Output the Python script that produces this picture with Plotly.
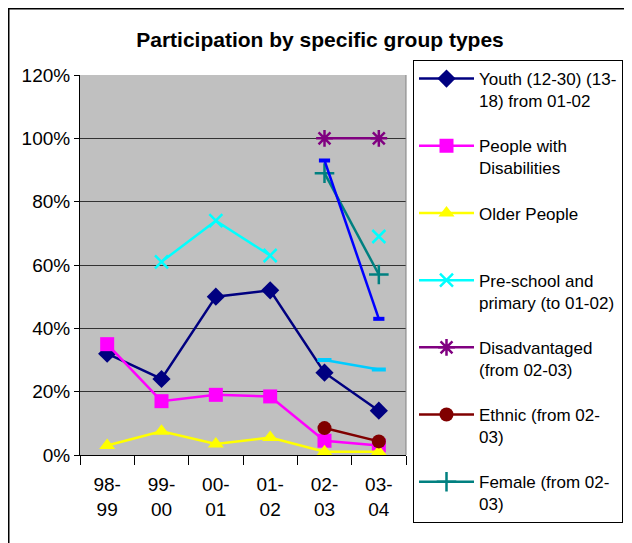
import plotly.graph_objects as go

categories = ["98-<br>99", "99-<br>00", "00-<br>01", "01-<br>02", "02-<br>03", "03-<br>04"]

youth = [32, 24, 50, 52, 26, 14]
disabilities = [35, 17, 19, 18.5, 4.5, 3]
older = [3, 7.5, 3.5, 5.5, 1, 1]
preschool = [None, 61, 74, 63, None, 69]
disadvantaged = [None, None, None, None, 100, 100]
ethnic = [None, None, None, None, 8.5, 4.3]
female = [None, None, None, None, 89, 57]
youth_13_18 = [None, None, None, None, 93, 43]
primary_extra = [None, None, None, None, 30, 27]

FONT = "Liberation Sans, Arial, sans-serif"

# page body has an 8px margin, so figure coords = screen coords - 8
W, H = 624, 535
L, R, T, B = 72, 398, 67, 447  # plot area in figure px
PW, PH = R - L, B - T

fig = go.Figure()

def add(name, y, color, symbol, size, legend=True, mline=None):
    fig.add_trace(go.Scatter(
        x=categories, y=y, name=name, mode="lines+markers",
        line=dict(color=color, width=2.5),
        marker=dict(symbol=symbol, size=size, color=color,
                    line=dict(color=color, width=mline if mline else 0)),
        connectgaps=False, showlegend=legend,
        legendgroup=name,
    ))

add("Youth (12-30) (13-<br>18) from 01-02", youth, "#000080", "diamond", 14)
add("People with<br>Disabilities", disabilities, "#FF00FF", "square", 14)
add("Older People<br> ", older, "#FFFF00", "triangle-up", 14)
add("Pre-school and<br>primary (to 01-02)", preschool, "#00FFFF", "x-thin", 13, mline=2.5)
add("Disadvantaged<br>(from 02-03)", disadvantaged, "#800080", "asterisk", 14, mline=2.5)
add("Ethnic (from 02-<br>03)", ethnic, "#800000", "circle", 14)
add("Female (from 02-<br>03)", female, "#008080", "cross-thin", 14, mline=2.5)
add("Youth (13-18)", youth_13_18, "#0000FF", "line-ew", 8, legend=False, mline=4)
add("Primary", primary_extra, "#00CCFF", "line-ew", 10, legend=False, mline=4)

fig.update_layout(
    width=W, height=H,
    margin=dict(l=L, r=W - R, t=T, b=H - B, autoexpand=False),
    paper_bgcolor="white",
    plot_bgcolor="#C0C0C0",
    font=dict(family=FONT, size=18, color="black"),
    title=dict(text="<b>Participation by specific group types</b>",
               x=312 / W, xanchor="center", y=1 - 32 / H, yanchor="middle",
               font=dict(size=21, family=FONT, color="black")),
    showlegend=True,
    legend=dict(
        x=(405 - L) / PW, xanchor="left", y=(B - 52) / PH, yanchor="top",
        bgcolor="white", bordercolor="black", borderwidth=1,
        font=dict(size=17, family=FONT, color="black"),
        traceorder="grouped", tracegroupgap=20, valign="top",
        itemwidth=55, maxheight=480,
    ),
    xaxis=dict(
        type="category", range=[-0.5, 5.5],
        showline=True, linecolor="black", linewidth=1,
        ticks="outside", tickson="boundaries", ticklen=9, tickcolor="black",
        ticklabelstandoff=12,
        showgrid=False, tickfont=dict(size=19, family=FONT),
    ),
    yaxis=dict(
        range=[0, 120], dtick=20, ticksuffix="%",
        showline=True, linecolor="black", linewidth=1,
        ticks="outside", ticklen=5, tickcolor="black",
        showgrid=True, gridcolor="#333333", gridwidth=1,
        zeroline=False, tickfont=dict(size=19, family=FONT),
    ),
    shapes=[
        dict(type="rect", xref="paper", yref="paper",
             x0=(0.75 - L) / PW, x1=(W + 20 - L) / PW,
             y0=(B - H - 20) / PH, y1=(B - 0.75) / PH,
             line=dict(color="black", width=1.5), layer="below"),
        dict(type="line", xref="paper", yref="paper",
             x0=1, x1=1, y0=0, y1=1, line=dict(color="#808080", width=1)),
    ],
)

fig.write_html("out.html")
